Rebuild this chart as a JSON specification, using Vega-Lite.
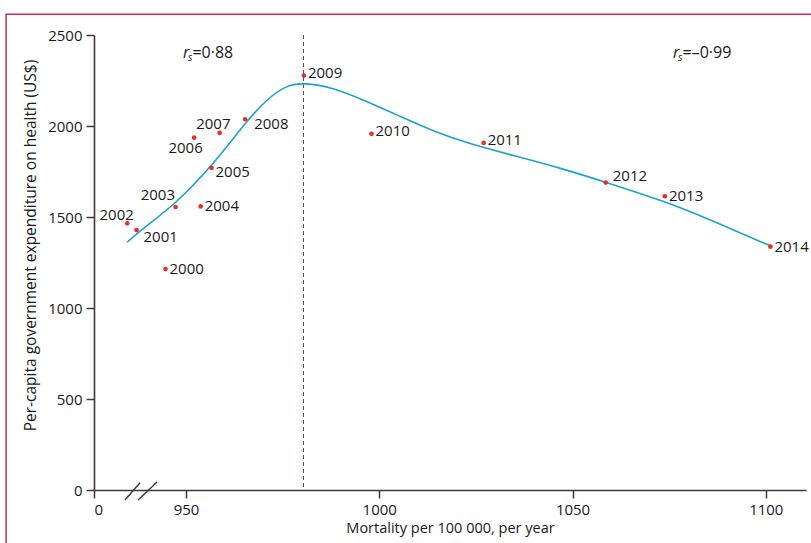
{
  "$schema": "https://vega.github.io/schema/vega-lite/v6.json",
  "width": 712,
  "height": 455,
  "autosize": {"type": "none"},
  "padding": {"left": 94, "top": 35, "right": 5, "bottom": 53},
  "config": {
    "view": {"stroke": null},
    "font": "Open Sans",
    "axis": {
      "grid": false,
      "domainColor": "#3a3a3a",
      "domainWidth": 1.6,
      "tickColor": "#3a3a3a",
      "tickWidth": 1.5,
      "tickSize": 8,
      "labelPadding": 4,
      "labelFontSize": 15,
      "labelColor": "#1a1a1a",
      "labelFont": "Open Sans",
      "titleFont": "Open Sans",
      "titleFontSize": 14,
      "titleFontWeight": "normal",
      "titleColor": "#1a1a1a"
    }
  },
  "datasets": {
    "one": [{"id": 1}],
    "points": [
      {"year": "2000", "x": 944.7, "y": 1214},
      {"year": "2001", "x": 937.2, "y": 1428},
      {"year": "2002", "x": 934.8, "y": 1465},
      {"year": "2003", "x": 947.3, "y": 1555},
      {"year": "2004", "x": 953.8, "y": 1558},
      {"year": "2005", "x": 956.6, "y": 1770},
      {"year": "2006", "x": 952.1, "y": 1936},
      {"year": "2007", "x": 958.7, "y": 1962},
      {"year": "2008", "x": 965.3, "y": 2037},
      {"year": "2009", "x": 980.5, "y": 2277},
      {"year": "2010", "x": 998.0, "y": 1957},
      {"year": "2011", "x": 1027.0, "y": 1907},
      {"year": "2012", "x": 1058.6, "y": 1689},
      {"year": "2013", "x": 1073.9, "y": 1614},
      {"year": "2014", "x": 1101.2, "y": 1337}
    ],
    "curve": [
      {"x": 934.8, "y": 1362},
      {"x": 939.0, "y": 1440},
      {"x": 947.2, "y": 1570},
      {"x": 956.5, "y": 1775},
      {"x": 965.3, "y": 2017},
      {"x": 970.9, "y": 2148},
      {"x": 976.0, "y": 2224},
      {"x": 980.3, "y": 2238},
      {"x": 988.1, "y": 2212},
      {"x": 996.7, "y": 2136},
      {"x": 1005.4, "y": 2053},
      {"x": 1014.0, "y": 1971},
      {"x": 1022.6, "y": 1907},
      {"x": 1035.5, "y": 1833},
      {"x": 1046.7, "y": 1770},
      {"x": 1058.8, "y": 1690},
      {"x": 1073.9, "y": 1586},
      {"x": 1084.7, "y": 1494},
      {"x": 1101.1, "y": 1342}
    ],
    "breaks": [
      {"x": 934.2, "y": -55, "x2": 938.1, "y2": 40},
      {"x": 937.6, "y": -55, "x2": 942.5, "y2": 44}
    ]
  },
  "layer": [
    {
      "data": {"name": "one"},
      "mark": {"type": "rect", "fill": null, "stroke": "#d42a5a", "strokeWidth": 1.5, "clip": false},
      "encoding": {
        "x": {"datum": -5560, "type": "quantitative", "scale": {"domain": [0, 930, 1110.4], "range": [0, 14.7, 712], "nice": false, "zero": false}},
        "x2": {"datum": 1118},
        "y": {"datum": 2614, "type": "quantitative", "scale": {"domain": [0, 2500], "nice": false, "zero": false}},
        "y2": {"datum": -500}
      }
    },
    {
      "data": {"name": "one"},
      "mark": {"type": "rule", "color": "#44546a", "strokeWidth": 1, "strokeDash": [4, 3]},
      "encoding": {
        "x": {
          "datum": 980.4, "type": "quantitative",
          "scale": {"domain": [0, 930, 1110.4], "range": [0, 14.7, 712], "nice": false, "zero": false},
          "axis": {
            "values": [0, 950, 1000, 1050, 1100],
            "format": "d",
            "title": "Mortality per 100 000, per year",
            "titleFontSize": 14.5,
            "titlePadding": 4
          }
        }
      }
    },
    {
      "data": {"name": "curve"},
      "mark": {"type": "line", "color": "#1ba3c9", "strokeWidth": 1.6, "interpolate": "basis"},
      "encoding": {
        "x": {"field": "x", "type": "quantitative", "scale": {"domain": [0, 930, 1110.4], "range": [0, 14.7, 712], "nice": false, "zero": false}},
        "y": {
          "field": "y", "type": "quantitative",
          "scale": {"domain": [0, 2500], "nice": false, "zero": false},
          "axis": {
            "values": [0, 500, 1000, 1500, 2000, 2500],
            "format": "d",
            "title": "Per-capita government expenditure on health (US$)",
            "titleFontSize": 15.5,
            "titleY": 210,
            "titlePadding": 9
          }
        }
      }
    },
    {
      "data": {"name": "breaks"},
      "mark": {"type": "rule", "color": "#3a3a3a", "strokeWidth": 1.4, "clip": false},
      "encoding": {
        "x": {"field": "x", "type": "quantitative", "scale": {"domain": [0, 930, 1110.4], "range": [0, 14.7, 712], "nice": false, "zero": false}},
        "x2": {"field": "x2"},
        "y": {"field": "y", "type": "quantitative", "scale": {"domain": [0, 2500], "nice": false, "zero": false}},
        "y2": {"field": "y2"}
      }
    },
    {
      "data": {"name": "points"},
      "mark": {"type": "circle", "color": "#e5302a", "size": 22, "opacity": 1},
      "encoding": {
        "x": {"field": "x", "type": "quantitative", "scale": {"domain": [0, 930, 1110.4], "range": [0, 14.7, 712], "nice": false, "zero": false}},
        "y": {"field": "y", "type": "quantitative", "scale": {"domain": [0, 2500], "nice": false, "zero": false}}
      }
    },
    {
      "data": {"name": "points"},
      "transform": [{"filter": {"field": "year", "oneOf": ["2000", "2004", "2013", "2014"]}}],
      "mark": {"type": "text", "align": "left", "baseline": "middle", "dx": 4, "dy": 0, "fontSize": 15, "color": "#1a1a1a"},
      "encoding": {
        "x": {"field": "x", "type": "quantitative"},
        "y": {"field": "y", "type": "quantitative"},
        "text": {"field": "year"}
      }
    },
    {
      "data": {"name": "points"},
      "transform": [{"filter": {"field": "year", "oneOf": ["2009", "2010", "2011"]}}],
      "mark": {"type": "text", "align": "left", "baseline": "middle", "dx": 4, "dy": -2.5, "fontSize": 15, "color": "#1a1a1a"},
      "encoding": {
        "x": {"field": "x", "type": "quantitative"},
        "y": {"field": "y", "type": "quantitative"},
        "text": {"field": "year"}
      }
    },
    {
      "data": {"name": "points"},
      "transform": [{"filter": {"field": "year", "oneOf": ["2005"]}}],
      "mark": {"type": "text", "align": "left", "baseline": "middle", "dx": 4, "dy": 4.5, "fontSize": 15, "color": "#1a1a1a"},
      "encoding": {
        "x": {"field": "x", "type": "quantitative"},
        "y": {"field": "y", "type": "quantitative"},
        "text": {"field": "year"}
      }
    },
    {
      "data": {"name": "points"},
      "transform": [{"filter": {"field": "year", "oneOf": ["2001"]}}],
      "mark": {"type": "text", "align": "left", "baseline": "middle", "dx": 7, "dy": 6.5, "fontSize": 15, "color": "#1a1a1a"},
      "encoding": {
        "x": {"field": "x", "type": "quantitative"},
        "y": {"field": "y", "type": "quantitative"},
        "text": {"field": "year"}
      }
    },
    {
      "data": {"name": "points"},
      "transform": [{"filter": {"field": "year", "oneOf": ["2008"]}}],
      "mark": {"type": "text", "align": "left", "baseline": "middle", "dx": 9, "dy": 4.6, "fontSize": 15, "color": "#1a1a1a"},
      "encoding": {
        "x": {"field": "x", "type": "quantitative"},
        "y": {"field": "y", "type": "quantitative"},
        "text": {"field": "year"}
      }
    },
    {
      "data": {"name": "points"},
      "transform": [{"filter": {"field": "year", "oneOf": ["2012"]}}],
      "mark": {"type": "text", "align": "left", "baseline": "middle", "dx": 7, "dy": -7, "fontSize": 15, "color": "#1a1a1a"},
      "encoding": {
        "x": {"field": "x", "type": "quantitative"},
        "y": {"field": "y", "type": "quantitative"},
        "text": {"field": "year"}
      }
    },
    {
      "data": {"name": "points"},
      "transform": [{"filter": {"field": "year", "oneOf": ["2002"]}}],
      "mark": {"type": "text", "align": "center", "baseline": "middle", "dx": -10.6, "dy": -8.7, "fontSize": 15, "color": "#1a1a1a"},
      "encoding": {
        "x": {"field": "x", "type": "quantitative"},
        "y": {"field": "y", "type": "quantitative"},
        "text": {"field": "year"}
      }
    },
    {
      "data": {"name": "points"},
      "transform": [{"filter": {"field": "year", "oneOf": ["2003"]}}],
      "mark": {"type": "text", "align": "center", "baseline": "middle", "dx": -17.7, "dy": -12.3, "fontSize": 15, "color": "#1a1a1a"},
      "encoding": {
        "x": {"field": "x", "type": "quantitative"},
        "y": {"field": "y", "type": "quantitative"},
        "text": {"field": "year"}
      }
    },
    {
      "data": {"name": "points"},
      "transform": [{"filter": {"field": "year", "oneOf": ["2006"]}}],
      "mark": {"type": "text", "align": "center", "baseline": "middle", "dx": -8.5, "dy": 10.3, "fontSize": 15, "color": "#1a1a1a"},
      "encoding": {
        "x": {"field": "x", "type": "quantitative"},
        "y": {"field": "y", "type": "quantitative"},
        "text": {"field": "year"}
      }
    },
    {
      "data": {"name": "points"},
      "transform": [{"filter": {"field": "year", "oneOf": ["2007"]}}],
      "mark": {"type": "text", "align": "center", "baseline": "middle", "dx": -6.3, "dy": -9, "fontSize": 15, "color": "#1a1a1a"},
      "encoding": {
        "x": {"field": "x", "type": "quantitative"},
        "y": {"field": "y", "type": "quantitative"},
        "text": {"field": "year"}
      }
    },
    {
      "data": {"name": "one"},
      "mark": {"type": "text", "text": "r", "fontStyle": "italic", "fontSize": 16, "align": "left", "baseline": "middle", "color": "#1a1a1a"},
      "encoding": {"x": {"datum": 949.2, "type": "quantitative"}, "y": {"datum": 2400, "type": "quantitative"}}
    },
    {
      "data": {"name": "one"},
      "mark": {"type": "text", "text": "s", "fontStyle": "italic", "fontSize": 10, "align": "left", "baseline": "middle", "dx": 5, "dy": 4.5, "color": "#1a1a1a"},
      "encoding": {"x": {"datum": 949.2, "type": "quantitative"}, "y": {"datum": 2400, "type": "quantitative"}}
    },
    {
      "data": {"name": "one"},
      "mark": {"type": "text", "text": "=0·88", "fontSize": 16, "align": "left", "baseline": "middle", "dx": 9.5, "color": "#1a1a1a"},
      "encoding": {"x": {"datum": 949.2, "type": "quantitative"}, "y": {"datum": 2400, "type": "quantitative"}}
    },
    {
      "data": {"name": "one"},
      "mark": {"type": "text", "text": "r", "fontStyle": "italic", "fontSize": 16, "align": "left", "baseline": "middle", "color": "#1a1a1a"},
      "encoding": {"x": {"datum": 1076.0, "type": "quantitative"}, "y": {"datum": 2400, "type": "quantitative"}}
    },
    {
      "data": {"name": "one"},
      "mark": {"type": "text", "text": "s", "fontStyle": "italic", "fontSize": 10, "align": "left", "baseline": "middle", "dx": 5, "dy": 4.5, "color": "#1a1a1a"},
      "encoding": {"x": {"datum": 1076.0, "type": "quantitative"}, "y": {"datum": 2400, "type": "quantitative"}}
    },
    {
      "data": {"name": "one"},
      "mark": {"type": "text", "text": "=–0·99", "fontSize": 16, "align": "left", "baseline": "middle", "dx": 9.5, "color": "#1a1a1a"},
      "encoding": {"x": {"datum": 1076.0, "type": "quantitative"}, "y": {"datum": 2400, "type": "quantitative"}}
    }
  ]
}
